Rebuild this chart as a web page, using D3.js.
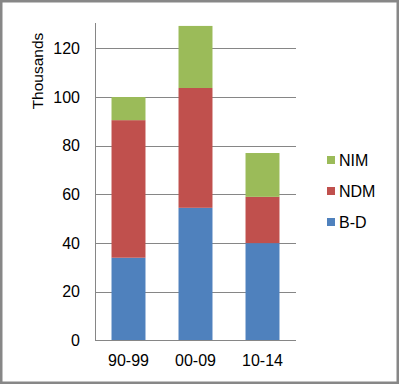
<!DOCTYPE html>
<html>
<head>
<meta charset="utf-8">
<script src="https://cdn.jsdelivr.net/npm/d3@7"></script>
<style>
  body { margin: 0; background: #fff; }
  text { font-family: "Liberation Sans", Arial, sans-serif; fill: #000; }
</style>
</head>
<body>
<svg id="chart" width="399" height="384"></svg>
<script>
// chart data
const periods = ['90-99', '00-09', '10-14'];
const seriesNames = ['B-D', 'NDM', 'NIM'];
const bd  = [34, 54.5, 40];
const ndm = [56.5, 49.2, 19];
const nim = [9.5, 25.5, 18];
const yTicks = [0, 20, 40, 60, 80, 100, 120];

const colors = { 'B-D': '#4f81bd', 'NDM': '#c0504d', 'NIM': '#9bbb59' };

const svg = d3.select('#chart');
const W = 399, H = 384;

const m = { left: 95, right: 296, top: 23, bottom: 340.5 };

// frame
svg.append('rect')
    .attr('x', 1.25).attr('y', 1.25)
    .attr('width', W - 2.5).attr('height', H - 2.5)
    .attr('fill', '#fff').attr('stroke', '#878787').attr('stroke-width', 2.5);

const rows = periods.map((p, i) => ({ period: p, 'B-D': bd[i], 'NDM': ndm[i], 'NIM': nim[i] }));
const stacked = d3.stack().keys(seriesNames)(rows);

const y = d3.scaleLinear().domain([0, 130.4]).range([m.bottom, m.top]);
const x = d3.scaleBand().domain(periods).range([m.left, m.right]).paddingInner(0.493).paddingOuter(0.2465);

// gridlines
svg.append('g').selectAll('line').data(yTicks.filter(d => d > 0)).enter()
    .append('line')
    .attr('x1', m.left).attr('x2', m.right)
    .attr('y1', d => Math.round(y(d)) + 0.5).attr('y2', d => Math.round(y(d)) + 0.5)
    .attr('stroke', '#868686').attr('stroke-width', 1);

// bars
svg.append('g').selectAll('g').data(stacked).enter()
    .append('g')
    .attr('fill', d => colors[d.key])
    .selectAll('rect').data(d => d).enter()
    .append('rect')
    .attr('x', d => x(d.data.period))
    .attr('width', x.bandwidth())
    .attr('y', d => y(d[1]))
    .attr('height', d => y(d[0]) - y(d[1]));

// y axis
const yAxis = d3.axisLeft(y).tickValues(yTicks).tickSize(0).tickPadding(15.5);
const gy = svg.append('g').attr('transform', 'translate(' + (m.left + 0.5) + ',0)').call(yAxis);
gy.select('.domain').attr('stroke', '#868686').attr('d', 'M0,' + m.top + 'V' + m.bottom);
gy.selectAll('text').attr('font-size', 16).attr('font-family', '"Liberation Sans", Arial, sans-serif').attr('fill', '#000');

// x axis
const xAxis = d3.axisBottom(x).tickSize(0).tickPadding(14);
const gx = svg.append('g').attr('transform', 'translate(0,' + (Math.round(m.bottom) - 0.5) + ')').call(xAxis);
gx.select('.domain').attr('stroke', '#868686').attr('d', 'M' + m.left + ',0H' + m.right);
gx.selectAll('text').attr('font-size', 16).attr('font-family', '"Liberation Sans", Arial, sans-serif').attr('fill', '#000');

// y title
svg.append('text')
    .attr('transform', 'translate(42.5,71) rotate(-90)')
    .attr('text-anchor', 'middle')
    .attr('font-size', 15.5)
    .text('Thousands');

// legend
const legendNames = seriesNames.slice().reverse();
const lg = svg.append('g').selectAll('g').data(legendNames).enter()
    .append('g')
    .attr('transform', (d, i) => 'translate(327,' + (160 + i * 31) + ')');
lg.append('rect').attr('x', 0).attr('y', -4).attr('width', 8).attr('height', 8)
    .attr('fill', d => colors[d]);
lg.append('text').attr('x', 12).attr('dy', '0.35em').attr('font-size', 16).text(d => d);
</script>
</body>
</html>
